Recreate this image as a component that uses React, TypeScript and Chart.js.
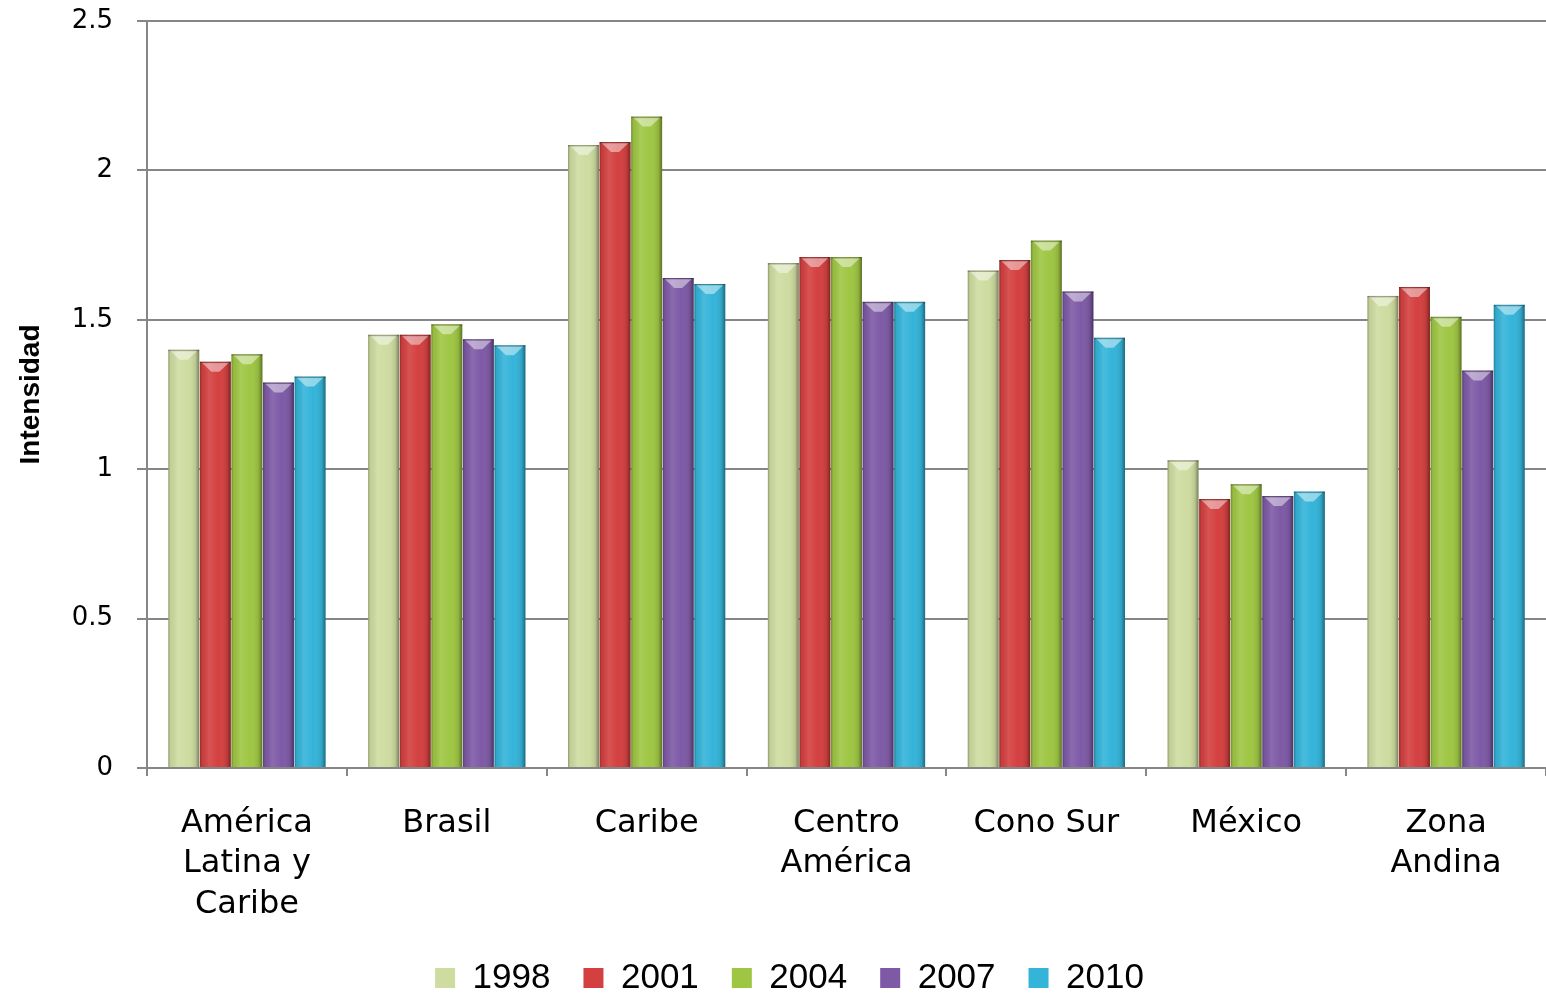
import React, { useEffect, useRef } from "react";
import { Chart, registerables } from "chart.js";

Chart.register(...registerables);

const categories: (string | string[])[] = [
  ["América", "Latina y", "Caribe"],
  "Brasil",
  "Caribe",
  ["Centro", "América"],
  "Cono Sur",
  "México",
  ["Zona", "Andina"],
];

const seriesNames = ["1998", "2001", "2004", "2007", "2010"];
const values1998 = [1.4, 1.45, 2.085, 1.69, 1.665, 1.03, 1.58];
const values2001 = [1.36, 1.45, 2.095, 1.71, 1.7, 0.9, 1.61];
const values2004 = [1.385, 1.485, 2.18, 1.71, 1.765, 0.95, 1.51];
const values2007 = [1.29, 1.435, 1.64, 1.56, 1.595, 0.91, 1.33];
const values2010 = [1.31, 1.415, 1.62, 1.56, 1.44, 0.925, 1.55];
const seriesColors = ["#CEDCA0", "#D44040", "#9FC643", "#7E5AA6", "#34B4D9"];

const yTickValues = [0, 0.5, 1, 1.5, 2, 2.5];
const yTickLabels = ["0", "0.5", "1", "1.5", "2", "2.5"];
const yTitle = "Intensidad";

const glassPlugin = {
  id: "glass",
  afterLayout(chart: any) {
    const lg = chart.legend;
    if (lg) {
      const shift = (lg.options.labels.padding || 0) / 2;
      lg.left += shift;
      lg.right += shift;
    }
  },
  afterDatasetsDraw(chart: any) {
    const ctx: CanvasRenderingContext2D = chart.ctx;
    chart.data.datasets.forEach((_ds: any, di: number) => {
      const meta = chart.getDatasetMeta(di);
      meta.data.forEach((el: any) => {
        const { x, y, base, width } = el.getProps(["x", "y", "base", "width"], true);
        const left = x - width / 2;
        const h = base - y;
        ctx.save();
        const g = ctx.createLinearGradient(left, 0, left + width, 0);
        g.addColorStop(0, "rgba(0,0,0,0.30)");
        g.addColorStop(0.07, "rgba(0,0,0,0.06)");
        g.addColorStop(0.3, "rgba(255,255,255,0.10)");
        g.addColorStop(0.6, "rgba(255,255,255,0)");
        g.addColorStop(0.88, "rgba(0,0,0,0.10)");
        g.addColorStop(1, "rgba(0,0,0,0.42)");
        ctx.fillStyle = g;
        ctx.fillRect(left, y, width, h);
        const cap = Math.min(10, h);
        ctx.beginPath();
        ctx.moveTo(left + 2, y + 1);
        ctx.lineTo(left + width - 2, y + 1);
        ctx.lineTo(x + 4, y + cap);
        ctx.lineTo(x - 4, y + cap);
        ctx.closePath();
        ctx.fillStyle = "rgba(255,255,255,0.45)";
        ctx.fill();
        ctx.fillStyle = "rgba(0,0,0,0.25)";
        ctx.fillRect(left, y, width, 1.5);
        ctx.restore();
      });
    });
  },
};

export default function App() {
  const ref = useRef<HTMLCanvasElement>(null);

  useEffect(() => {
    if (!ref.current) return;
    const all = [values1998, values2001, values2004, values2007, values2010];
    const chart = new Chart(ref.current, {
      type: "bar",
      data: {
        labels: categories,
        datasets: seriesNames.map((name, i) => ({
          label: name,
          data: all[i],
          backgroundColor: seriesColors[i],
          borderWidth: 0,
          categoryPercentage: 0.79,
          barPercentage: 0.98,
        })),
      },
      options: {
        animation: false,
        responsive: false,
        devicePixelRatio: 1,
        layout: { padding: { top: 21, left: 0, right: 0, bottom: -12.5 } },
        plugins: {
          tooltip: { enabled: false },
          legend: {
            position: "bottom",
            labels: {
              color: "#000",
              font: { family: "'Liberation Sans', Arial, sans-serif", size: 35 },
              boxWidth: 20,
              boxHeight: 20,
              padding: 33,
            },
          },
        },
        scales: {
          x: {
            grid: {
              drawOnChartArea: false,
              drawTicks: true,
              tickLength: 8,
              offset: true,
              color: "#868686",
              lineWidth: 2,
            },
            border: { display: true, color: "#868686", width: 2 },
            ticks: {
              color: "#000",
              padding: 27,
              maxRotation: 0,
              autoSkip: false,
              font: { family: "'DejaVu Sans', Verdana, sans-serif", size: 32, lineHeight: 1.27 },
            },
            afterFit: (scale: any) => {
              scale.height = 159.5;
            },
          },
          y: {
            min: 0,
            max: 2.5,
            afterBuildTicks: (scale: any) => {
              scale.ticks = yTickValues.map((v) => ({ value: v }));
            },
            ticks: {
              color: "#000",
              padding: 24,
              font: { family: "'DejaVu Sans', Verdana, sans-serif", size: 26 },
              callback: (v: any) => {
                const i = yTickValues.indexOf(Number(v));
                return i >= 0 ? yTickLabels[i] : "";
              },
            },
            grid: { color: "#868686", lineWidth: 2, tickLength: 10 },
            border: { display: true, color: "#868686", width: 2 },
            title: {
              display: true,
              text: yTitle,
              color: "#000",
              padding: { top: 14, bottom: 0 },
              font: { family: "'Liberation Sans Narrow', 'Liberation Sans', Arial, sans-serif", size: 28, weight: "bold" },
            },
            afterFit: (scale: any) => {
              scale.width = 147;
              scale.paddingTop = 0;
              scale.paddingBottom = 0;
            },
          },
        },
      },
      plugins: [glassPlugin],
    });
    return () => chart.destroy();
  }, []);

  return (
    <div style={{ position: "absolute", left: 0, top: 0, width: 1546, height: 993, background: "#fff" }}>
      <canvas ref={ref} width={1546} height={993} style={{ display: "block" }} />
    </div>
  );
}
